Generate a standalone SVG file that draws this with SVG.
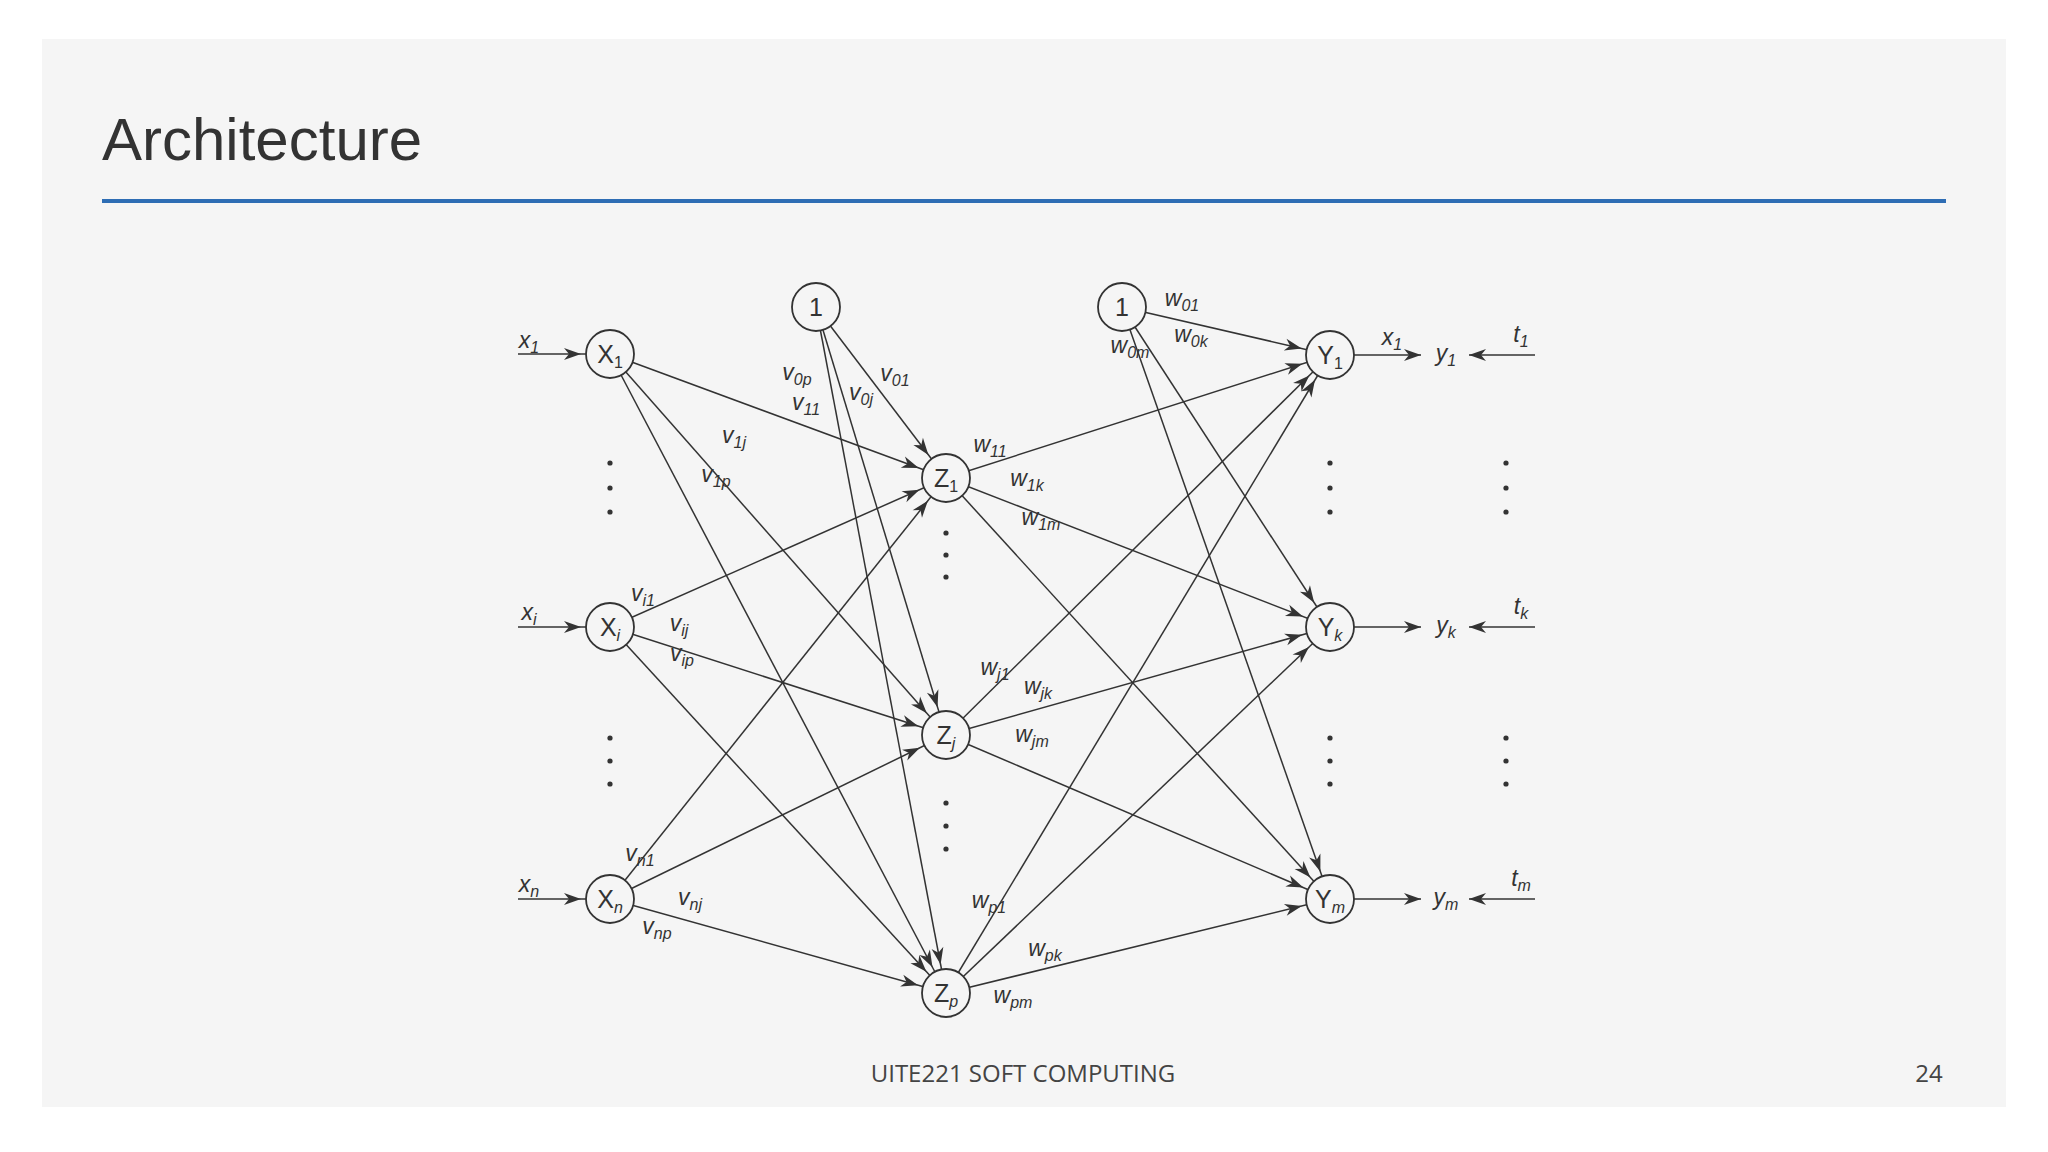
<svg xmlns="http://www.w3.org/2000/svg" width="2048" height="1152" viewBox="0 0 2048 1152">
<style>
.n{fill:#f5f5f5;stroke:#333;stroke-width:1.8}
.e{stroke:#333;stroke-width:1.5;fill:none}
.t{font-family:"Liberation Sans",Arial,sans-serif;font-size:25px;fill:#333;text-anchor:middle}
.l{font-family:"Liberation Sans",Arial,sans-serif;font-size:23px;font-style:italic;fill:#333;text-anchor:middle}
.s{font-size:16px}
.d{fill:#333}
</style>
<defs>
<marker id="a" markerUnits="userSpaceOnUse" markerWidth="60" markerHeight="20" viewBox="-20 -10 60 20" refX="29" refY="0" orient="auto" overflow="visible"><path d="M0,0 L-17,-6 L-12,0 L-17,6 Z" fill="#333"/></marker>
<marker id="b" markerUnits="userSpaceOnUse" markerWidth="30" markerHeight="20" viewBox="-20 -10 30 20" refX="0" refY="0" orient="auto" overflow="visible"><path d="M0,0 L-17,-6 L-12,0 L-17,6 Z" fill="#333"/></marker>
</defs>
<rect width="2048" height="1152" fill="#fff"/>
<rect x="42" y="39" width="1964" height="1068" fill="#f5f5f5"/>
<text x="102" y="160" font-family="Liberation Sans,Arial,sans-serif" font-size="60" fill="#333">Architecture</text>
<rect x="102" y="199" width="1844" height="4" fill="#2e6db4"/>
<text x="1023" y="1082" font-family="Open Sans,sans-serif" font-size="24" fill="#444" text-anchor="middle">UITE221 SOFT COMPUTING</text>
<text x="1929" y="1082" font-family="Open Sans,sans-serif" font-size="24" fill="#444" text-anchor="middle">24</text>
<g id="connectors">
<g marker-end="url(#a)" class="e">
<line x1="518" y1="354" x2="610" y2="354"/><line x1="518" y1="627" x2="610" y2="627"/><line x1="518" y1="899" x2="610" y2="899"/>
<line x1="610" y1="354" x2="946" y2="478"/><line x1="610" y1="354" x2="946" y2="735"/><line x1="610" y1="354" x2="946" y2="993"/>
<line x1="610" y1="627" x2="946" y2="478"/><line x1="610" y1="627" x2="946" y2="735"/><line x1="610" y1="627" x2="946" y2="993"/>
<line x1="610" y1="899" x2="946" y2="478"/><line x1="610" y1="899" x2="946" y2="735"/><line x1="610" y1="899" x2="946" y2="993"/>
<line x1="816" y1="307" x2="946" y2="478"/><line x1="816" y1="307" x2="946" y2="735"/><line x1="816" y1="307" x2="946" y2="993"/>
<line x1="946" y1="478" x2="1330" y2="355"/><line x1="946" y1="478" x2="1330" y2="627"/><line x1="946" y1="478" x2="1330" y2="899"/>
<line x1="946" y1="735" x2="1330" y2="355"/><line x1="946" y1="735" x2="1330" y2="627"/><line x1="946" y1="735" x2="1330" y2="899"/>
<line x1="946" y1="993" x2="1330" y2="355"/><line x1="946" y1="993" x2="1330" y2="627"/><line x1="946" y1="993" x2="1330" y2="899"/>
<line x1="1122" y1="307" x2="1330" y2="355"/><line x1="1122" y1="307" x2="1330" y2="627"/><line x1="1122" y1="307" x2="1330" y2="899"/>
</g>
<g marker-end="url(#b)" class="e">
<line x1="1354" y1="355" x2="1421" y2="355"/><line x1="1354" y1="627" x2="1421" y2="627"/><line x1="1354" y1="899" x2="1421" y2="899"/>
<line x1="1535" y1="355" x2="1469" y2="355"/><line x1="1535" y1="627" x2="1469" y2="627"/><line x1="1535" y1="899" x2="1469" y2="899"/>
</g>
</g>
<g id="X1"><circle class="n" cx="610" cy="354" r="24"/><text class="t" x="610" y="363">X<tspan class="s" dy="5">1</tspan></text></g>
<g id="Xi"><circle class="n" cx="610" cy="627" r="24"/><text class="t" x="610" y="636">X<tspan class="s" font-style="italic" dy="5">i</tspan></text></g>
<g id="Xn"><circle class="n" cx="610" cy="899" r="24"/><text class="t" x="610" y="908">X<tspan class="s" font-style="italic" dy="5">n</tspan></text></g>
<g id="B1"><circle class="n" cx="816" cy="307" r="24"/><text class="t" x="816" y="316" font-size="22">1</text></g>
<g id="Z1"><circle class="n" cx="946" cy="478" r="24"/><text class="t" x="946" y="487">Z<tspan class="s" dy="5">1</tspan></text></g>
<g id="Zj"><circle class="n" cx="946" cy="735" r="24"/><text class="t" x="946" y="744">Z<tspan class="s" font-style="italic" dy="5">j</tspan></text></g>
<g id="Zp"><circle class="n" cx="946" cy="993" r="24"/><text class="t" x="946" y="1002">Z<tspan class="s" font-style="italic" dy="5">p</tspan></text></g>
<g id="B2"><circle class="n" cx="1122" cy="307" r="24"/><text class="t" x="1122" y="316" font-size="22">1</text></g>
<g id="Y1"><circle class="n" cx="1330" cy="355" r="24"/><text class="t" x="1330" y="364">Y<tspan class="s" dy="5">1</tspan></text></g>
<g id="Yk"><circle class="n" cx="1330" cy="627" r="24"/><text class="t" x="1330" y="636">Y<tspan class="s" font-style="italic" dy="5">k</tspan></text></g>
<g id="Ym"><circle class="n" cx="1330" cy="899" r="24"/><text class="t" x="1330" y="908">Y<tspan class="s" font-style="italic" dy="5">m</tspan></text></g>
<g id="dots" class="d">
<circle cx="610" cy="463" r="2.6"/><circle cx="610" cy="488" r="2.6"/><circle cx="610" cy="512" r="2.6"/>
<circle cx="610" cy="738" r="2.6"/><circle cx="610" cy="761" r="2.6"/><circle cx="610" cy="784" r="2.6"/>
<circle cx="946" cy="533" r="2.6"/><circle cx="946" cy="555" r="2.6"/><circle cx="946" cy="577" r="2.6"/>
<circle cx="946" cy="803" r="2.6"/><circle cx="946" cy="826" r="2.6"/><circle cx="946" cy="849" r="2.6"/>
<circle cx="1330" cy="463" r="2.6"/><circle cx="1330" cy="488" r="2.6"/><circle cx="1330" cy="512" r="2.6"/>
<circle cx="1330" cy="738" r="2.6"/><circle cx="1330" cy="761" r="2.6"/><circle cx="1330" cy="784" r="2.6"/>
<circle cx="1506" cy="463" r="2.6"/><circle cx="1506" cy="488" r="2.6"/><circle cx="1506" cy="512" r="2.6"/>
<circle cx="1506" cy="738" r="2.6"/><circle cx="1506" cy="761" r="2.6"/><circle cx="1506" cy="784" r="2.6"/>
</g>
<g id="labels" class="l">
<text x="529" y="348">x<tspan class="s" dy="5">1</tspan></text>
<text x="529" y="620">x<tspan class="s" dy="5">i</tspan></text>
<text x="529" y="892">x<tspan class="s" dy="5">n</tspan></text>
<text x="797" y="380">v<tspan class="s" dy="5">0p</tspan></text>
<text x="895" y="381">v<tspan class="s" dy="5">01</tspan></text>
<text x="806" y="410">v<tspan class="s" dy="5">11</tspan></text>
<text x="861" y="400">v<tspan class="s" dy="5">0j</tspan></text>
<text x="734" y="443">v<tspan class="s" dy="5">1j</tspan></text>
<text x="716" y="482">v<tspan class="s" dy="5">1p</tspan></text>
<text x="643" y="601">v<tspan class="s" dy="5">i1</tspan></text>
<text x="679" y="631">v<tspan class="s" dy="5">ij</tspan></text>
<text x="682" y="661">v<tspan class="s" dy="5">ip</tspan></text>
<text x="640" y="861">v<tspan class="s" dy="5">n1</tspan></text>
<text x="690" y="905">v<tspan class="s" dy="5">nj</tspan></text>
<text x="657" y="934">v<tspan class="s" dy="5">np</tspan></text>
<text x="1182" y="306">w<tspan class="s" dy="5">01</tspan></text>
<text x="1130" y="353">w<tspan class="s" dy="5">0m</tspan></text>
<text x="1191" y="342">w<tspan class="s" dy="5">0k</tspan></text>
<text x="990" y="452">w<tspan class="s" dy="5">11</tspan></text>
<text x="1027" y="486">w<tspan class="s" dy="5">1k</tspan></text>
<text x="1041" y="525">w<tspan class="s" dy="5">1m</tspan></text>
<text x="995" y="675">w<tspan class="s" dy="5">j1</tspan></text>
<text x="1038" y="694">w<tspan class="s" dy="5">jk</tspan></text>
<text x="1032" y="742">w<tspan class="s" dy="5">jm</tspan></text>
<text x="989" y="908">w<tspan class="s" dy="5">p1</tspan></text>
<text x="1045" y="956">w<tspan class="s" dy="5">pk</tspan></text>
<text x="1013" y="1003">w<tspan class="s" dy="5">pm</tspan></text>
<text x="1392" y="345">x<tspan class="s" dy="5">1</tspan></text>
<text x="1446" y="361">y<tspan class="s" dy="5">1</tspan></text>
<text x="1446" y="633">y<tspan class="s" dy="5">k</tspan></text>
<text x="1446" y="905">y<tspan class="s" dy="5">m</tspan></text>
<text x="1521" y="342">t<tspan class="s" dy="5">1</tspan></text>
<text x="1521" y="614">t<tspan class="s" dy="5">k</tspan></text>
<text x="1521" y="886">t<tspan class="s" dy="5">m</tspan></text>
</g>
</svg>
